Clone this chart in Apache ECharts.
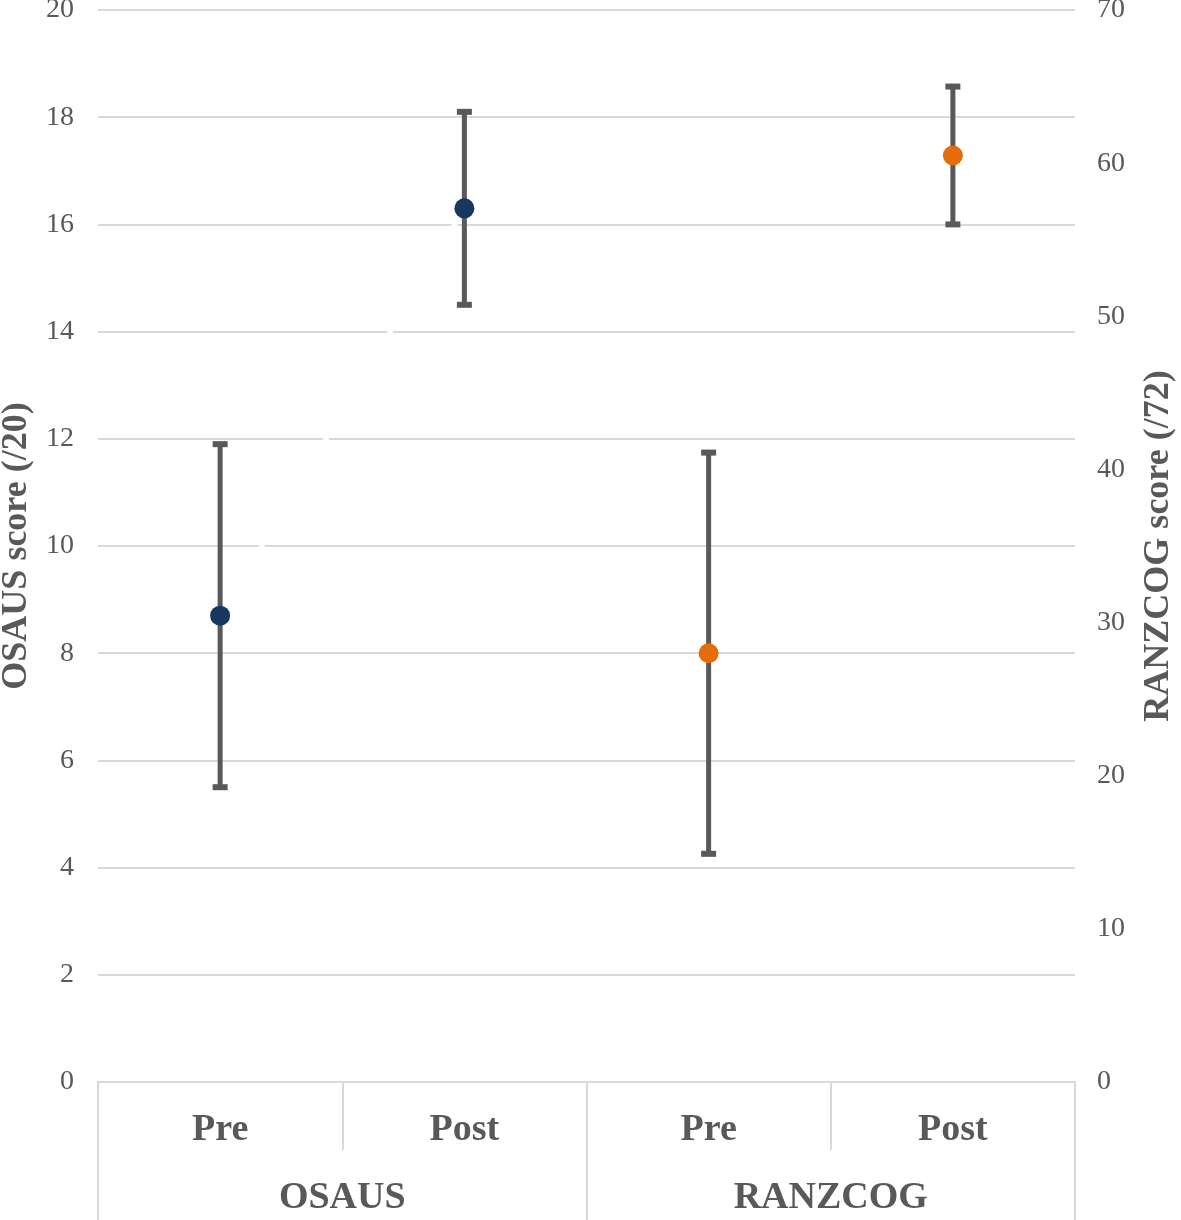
<!DOCTYPE html>
<html>
<head>
<meta charset="utf-8">
<script src="https://cdn.jsdelivr.net/npm/echarts@6/dist/echarts.min.js"></script>
<style>html,body{margin:0;padding:0;background:#fff}#c{width:1181px;height:1220px}</style>
</head>
<body>
<div id="c"></div>
<script>
const categories = ['Pre', 'Post', 'Pre', 'Post'];
const groups = ['OSAUS', 'RANZCOG'];
const osausMean = [8.7, 16.3];
const osausLow = [5.5, 14.5];
const osausHigh = [11.9, 18.1];
const ranzMean = [28, 60.5];
const ranzLow = [14.9, 56.0];
const ranzHigh = [41.1, 65.0];
const leftAxisTitle = 'OSAUS score (/20)';
const rightAxisTitle = 'RANZCOG score (/72)';

const FONT = '"Liberation Serif", "Times New Roman", serif';
const GRAY = '#595959';
const LINE = '#d9d9d9';

function errData(lows, highs, offset) {
  return lows.map((l, i) => [i + offset, l, highs[i]]);
}
function renderErr(params, api) {
  const x = api.value(0);
  const lo = api.coord([x, api.value(1)]);
  const hi = api.coord([x, api.value(2)]);
  const hw = 7.5;
  const style = { stroke: GRAY, lineWidth: 5 };
  return {
    type: 'group',
    children: [
      { type: 'line', shape: { x1: lo[0], y1: lo[1], x2: hi[0], y2: hi[1] }, style },
      { type: 'line', shape: { x1: hi[0] - hw, y1: hi[1], x2: hi[0] + hw, y2: hi[1] }, style: { stroke: GRAY, lineWidth: 6 } },
      { type: 'line', shape: { x1: lo[0] - hw, y1: lo[1], x2: lo[0] + hw, y2: lo[1] }, style: { stroke: GRAY, lineWidth: 6 } }
    ]
  };
}

const chart = echarts.init(document.getElementById('c'));
chart.setOption({
  animation: false,
  backgroundColor: '#fff',
  grid: { left: 98, right: 106, top: 10, bottom: 138, containLabel: false, outerBoundsMode: 'none' },
  xAxis: [
    {
      type: 'category', data: categories, position: 'bottom',
      axisLine: { show: true, lineStyle: { color: LINE, width: 2 } },
      axisTick: { show: true, interval: 0, length: 68, lineStyle: { color: LINE, width: 2 } },
      axisLabel: { interval: 0, margin: 29, fontFamily: FONT, fontWeight: 'bold', fontSize: 38, color: GRAY },
      splitLine: { show: false }
    },
    {
      type: 'category', data: groups, position: 'bottom',
      axisLine: { show: false },
      axisTick: { show: true, interval: 0, length: 138, lineStyle: { color: LINE, width: 2 } },
      axisLabel: { interval: 0, margin: 97, fontFamily: FONT, fontWeight: 'bold', fontSize: 38, color: GRAY },
      splitLine: { show: false }
    }
  ],
  yAxis: [
    {
      type: 'value', min: 0, max: 20, interval: 2, position: 'left',
      name: leftAxisTitle, nameLocation: 'middle', nameGap: 62, nameRotate: 90,
      nameTextStyle: { fontFamily: FONT, fontWeight: 'bold', fontSize: 36, color: GRAY },
      axisLine: { show: false }, axisTick: { show: false },
      axisLabel: { margin: 24, fontFamily: FONT, fontSize: 28, color: GRAY },
      splitLine: { show: true, lineStyle: { color: LINE, width: 2 } }
    },
    {
      type: 'value', min: 0, max: 70, interval: 10, position: 'right',
      name: rightAxisTitle, nameLocation: 'middle', nameGap: 66, nameRotate: 90,
      nameTextStyle: { fontFamily: FONT, fontWeight: 'bold', fontSize: 36, color: GRAY },
      axisLine: { show: false }, axisTick: { show: false },
      axisLabel: { margin: 22, fontFamily: FONT, fontSize: 28, color: GRAY },
      splitLine: { show: false }
    }
  ],
  series: [
    {
      type: 'line', xAxisIndex: 0, yAxisIndex: 0, z: 1,
      data: osausMean.map((v, i) => [i, v]),
      symbol: 'none', lineStyle: { color: '#ffffff', width: 5 }, silent: true
    },
    {
      type: 'custom', xAxisIndex: 0, yAxisIndex: 0, z: 3,
      data: errData(osausLow, osausHigh, 0), renderItem: renderErr,
      encode: { x: 0, y: [1, 2] }
    },
    {
      type: 'custom', xAxisIndex: 0, yAxisIndex: 1, z: 3,
      data: errData(ranzLow, ranzHigh, 2), renderItem: renderErr,
      encode: { x: 0, y: [1, 2] }
    },
    {
      type: 'scatter', xAxisIndex: 0, yAxisIndex: 0, z: 5,
      data: osausMean.map((v, i) => [i, v]),
      symbol: 'circle', symbolSize: 20, itemStyle: { color: '#17375e', opacity: 1 }
    },
    {
      type: 'scatter', xAxisIndex: 0, yAxisIndex: 1, z: 5,
      data: ranzMean.map((v, i) => [i + 2, v]),
      symbol: 'circle', symbolSize: 20, itemStyle: { color: '#e46c0a', opacity: 1 }
    }
  ]
});
</script>
</body>
</html>
